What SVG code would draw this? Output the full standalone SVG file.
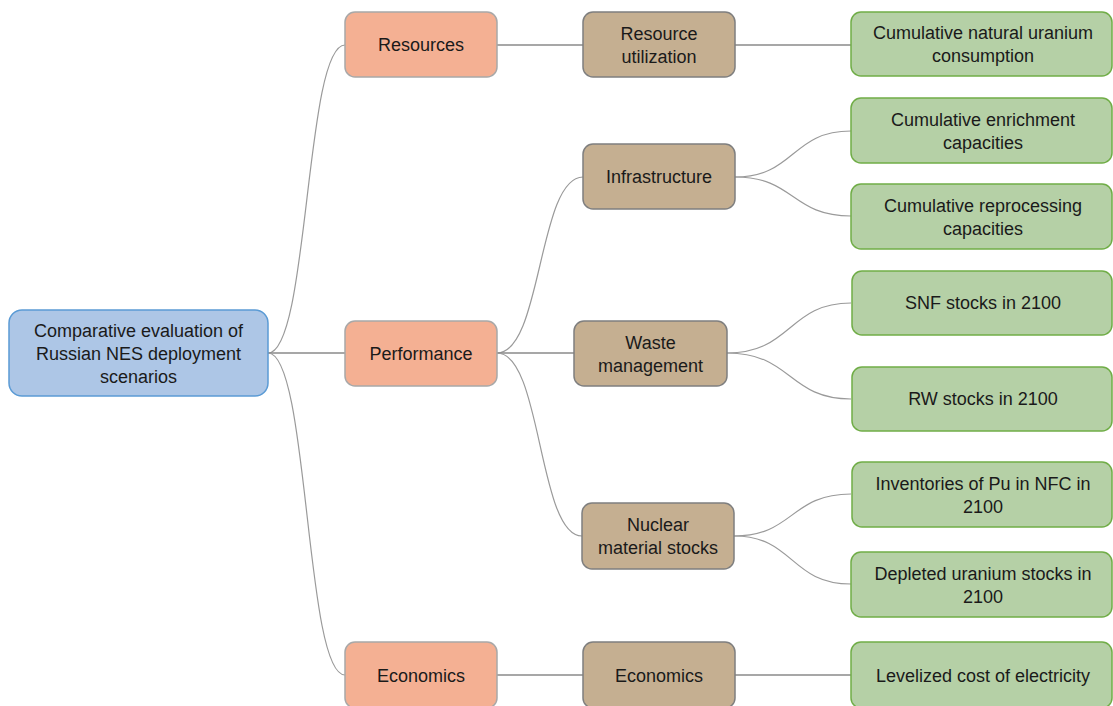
<svg xmlns="http://www.w3.org/2000/svg" width="1113" height="706" viewBox="0 0 1113 706">
<style>
.t{font-family:"Liberation Sans",Arial,sans-serif;font-size:18px;fill:#1a1a1a;text-anchor:middle}
.root{fill:#adc6e6;stroke:#5b9bd5;stroke-width:1.5}
.l1{fill:#f4b093;stroke:#a8a8a8;stroke-width:1.5}
.l2{fill:#c5af91;stroke:#7f7f7f;stroke-width:1.5}
.l3{fill:#b5d0a6;stroke:#70ad47;stroke-width:1.5}
.c{fill:none;stroke:#9a9a9a;stroke-width:1.2}
.s{fill:none;stroke:#8a8a8a;stroke-width:1.4}
</style>
<rect width="1113" height="706" fill="#ffffff"/>
<g id="connectors">
<path class="c" d="M268,353 C309,353 305,45 345,45"/>
<path class="s" d="M268,353 L345,353"/>
<path class="c" d="M268,353 C309,353 305,675 345,675"/>
<path class="s" d="M497,45 L583,45"/>
<path class="s" d="M735,45 L851,45"/>
<path class="c" d="M497,353 C542,353 538,177 583,177"/>
<path class="s" d="M497,353 L574,353"/>
<path class="c" d="M497,353 C542,353 538,536 582,536"/>
<path class="c" d="M735,177 C795,177 791,131 851,131"/>
<path class="c" d="M735,177 C795,177 791,216 851,216"/>
<path class="c" d="M727,353 C792,353 788,303 851,303"/>
<path class="c" d="M727,353 C792,353 788,399 851,399"/>
<path class="c" d="M734,536 C794,536 790,494 851,494"/>
<path class="c" d="M734,536 C794,536 790,584 851,584"/>
<path class="s" d="M497,675 L583,675"/>
<path class="s" d="M735,675 L851,675"/>
</g>
<g id="root">
<rect class="root" x="9" y="310" width="259" height="86" rx="13"/>
<text class="t" x="138.5" y="337">Comparative evaluation of</text>
<text class="t" x="138.5" y="360">Russian NES deployment</text>
<text class="t" x="138.5" y="383">scenarios</text>
</g>
<g id="resources">
<rect class="l1" x="345" y="12" width="152" height="65" rx="10"/>
<text class="t" x="421" y="51">Resources</text>
</g>
<g id="performance">
<rect class="l1" x="345" y="321" width="152" height="65" rx="10"/>
<text class="t" x="421" y="360">Performance</text>
</g>
<g id="economics1">
<rect class="l1" x="345" y="642" width="152" height="66" rx="10"/>
<text class="t" x="421" y="682">Economics</text>
</g>
<g id="resource-utilization">
<rect class="l2" x="583" y="12" width="152" height="65" rx="10"/>
<text class="t" x="659" y="40">Resource</text>
<text class="t" x="659" y="63">utilization</text>
</g>
<g id="infrastructure">
<rect class="l2" x="583" y="144" width="152" height="65" rx="10"/>
<text class="t" x="659" y="183">Infrastructure</text>
</g>
<g id="waste-management">
<rect class="l2" x="574" y="321" width="153" height="65" rx="10"/>
<text class="t" x="650.5" y="349">Waste</text>
<text class="t" x="650.5" y="372">management</text>
</g>
<g id="nuclear-material-stocks">
<rect class="l2" x="582" y="503" width="152" height="66" rx="10"/>
<text class="t" x="658" y="531">Nuclear</text>
<text class="t" x="658" y="554">material stocks</text>
</g>
<g id="economics2">
<rect class="l2" x="583" y="642" width="152" height="66" rx="10"/>
<text class="t" x="659" y="682">Economics</text>
</g>
<g id="natural-uranium">
<rect class="l3" x="851" y="12" width="261" height="64" rx="10"/>
<text class="t" x="983" y="39">Cumulative natural uranium</text>
<text class="t" x="983" y="62">consumption</text>
</g>
<g id="enrichment">
<rect class="l3" x="851" y="98" width="261" height="65" rx="10"/>
<text class="t" x="983" y="126">Cumulative enrichment</text>
<text class="t" x="983" y="149">capacities</text>
</g>
<g id="reprocessing">
<rect class="l3" x="851" y="184" width="261" height="65" rx="10"/>
<text class="t" x="983" y="212">Cumulative reprocessing</text>
<text class="t" x="983" y="235">capacities</text>
</g>
<g id="snf">
<rect class="l3" x="852" y="271" width="260" height="64" rx="10"/>
<text class="t" x="983" y="309">SNF stocks in 2100</text>
</g>
<g id="rw">
<rect class="l3" x="852" y="367" width="260" height="64" rx="10"/>
<text class="t" x="983" y="405">RW stocks in 2100</text>
</g>
<g id="pu">
<rect class="l3" x="852" y="462" width="260" height="65" rx="10"/>
<text class="t" x="983" y="490">Inventories of Pu in NFC in</text>
<text class="t" x="983" y="513">2100</text>
</g>
<g id="depleted">
<rect class="l3" x="851" y="552" width="261" height="65" rx="10"/>
<text class="t" x="983" y="580">Depleted uranium stocks in</text>
<text class="t" x="983" y="603">2100</text>
</g>
<g id="lcoe">
<rect class="l3" x="851" y="642" width="261" height="66" rx="10"/>
<text class="t" x="983" y="682">Levelized cost of electricity</text>
</g>
</svg>
